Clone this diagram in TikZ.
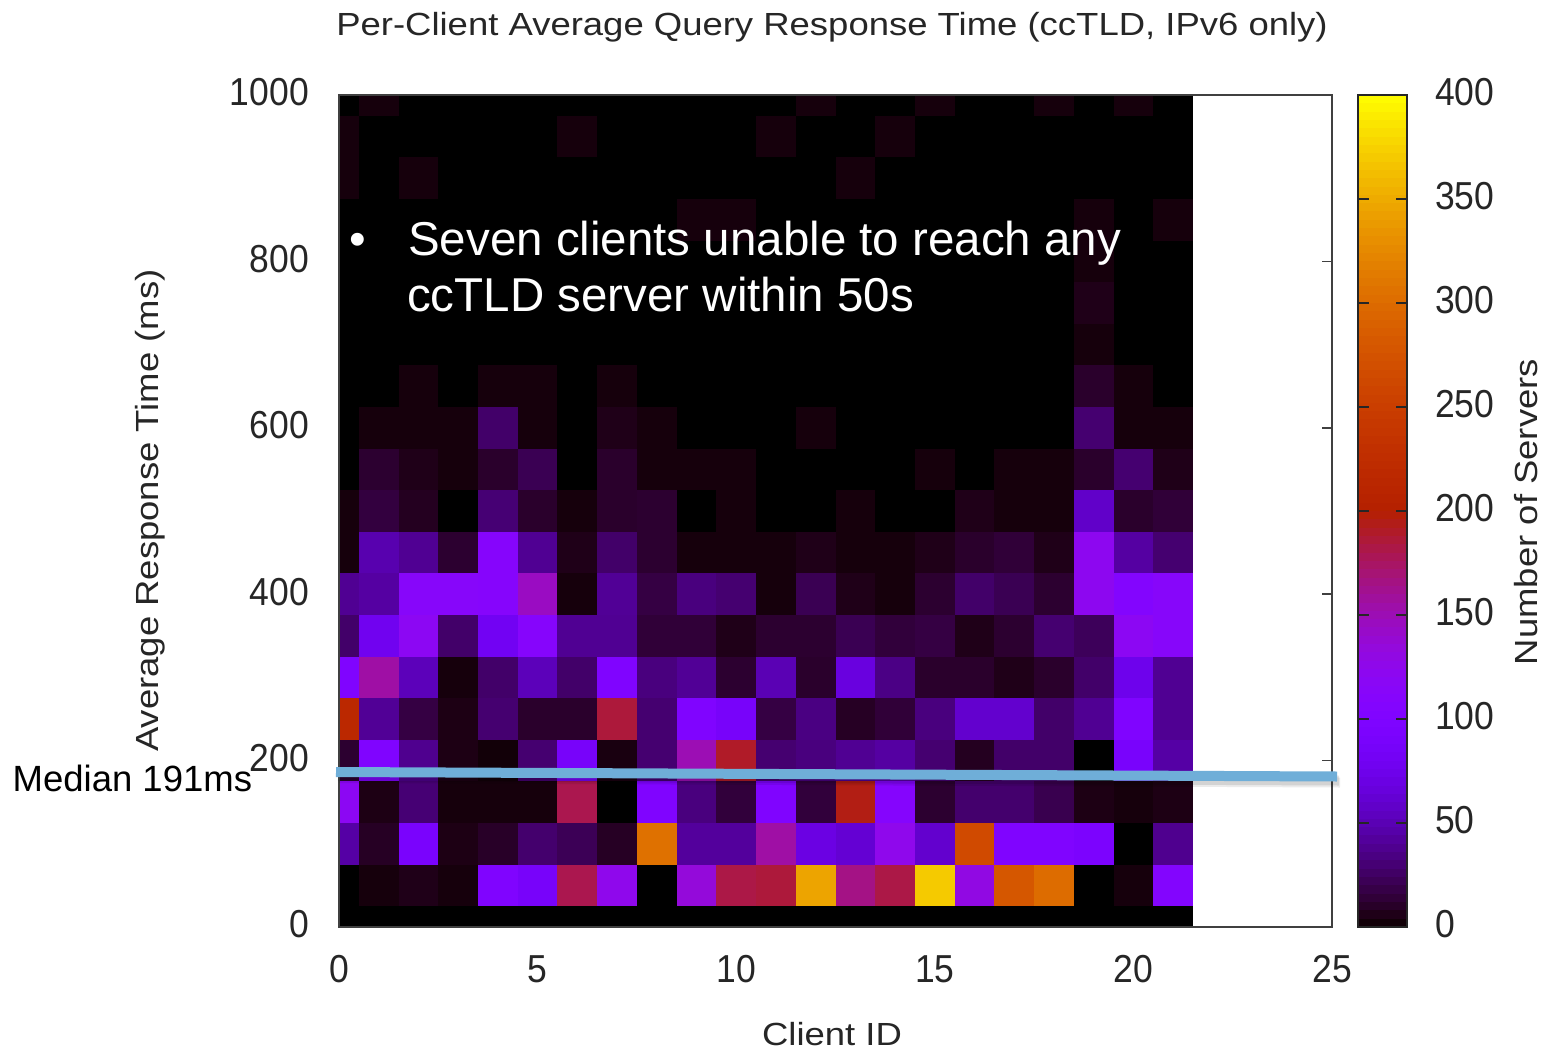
\documentclass[tikz,border=0pt]{standalone}
\usepackage{fontspec}
\setmainfont{Liberation Sans}
\newfontfamily\labelfam[FakeStretch=1.14]{Liberation Sans}
\newfontfamily\tickfam[FakeStretch=0.91]{Liberation Sans}

\definecolor{medianblue}{RGB}{111,174,216}

% gnuplot default palette (rgbformulae 7,5,15) on the range 0..400
\newcommand\setgpcolor[1]{%
  \pgfmathsetmacro\hmR{sqrt((#1)/400)}%
  \pgfmathsetmacro\hmG{((#1)/400)^3}%
  \pgfmathsetmacro\hmB{max(0,sin(0.9*(#1)))}%
  \definecolor{hmc}{rgb}{\hmR,\hmG,\hmB}}

% one row of the heat map: #1 = response time bin (ms), #2 = counts for clients 0..21
\newcommand\hmrow[2]{%
  \foreach \v [count=\ci from 0] in {#2} {%
    \ifnum\v>0\relax
      \setgpcolor{\v}%
      \pgfmathsetmacro\hxa{max(\ci-0.5,0)}%
      \pgfmathsetmacro\hya{max(#1-25,0)}%
      \pgfmathsetmacro\hyb{min(#1+25,1000)}%
      \fill[hmc] (\hxa,\hya) rectangle (\ci+0.5,\hyb);
    \fi
  }%
}

\begin{document}
\begin{tikzpicture}[x=1pt, y=-1pt,
  frameline/.style={draw=black!75, line width=1.5pt},
  ticklabel/.style={font=\tickfam\fontsize{39}{44}\selectfont, text=black!85, inner sep=0pt},
  axislabel/.style={font=\labelfam\fontsize{32}{38}\selectfont, text=black!85, inner sep=0pt},
  note/.style={font=\fontsize{47.5}{56}\selectfont, text=white, inner sep=0pt},
  medianline/.style={line width=10pt, draw=medianblue},
]
\fill[white] (0,0) rectangle (1544,1051);
\useasboundingbox (0,0) rectangle (1544,1051);

% ---- heat map (x: client id, y: response time in ms)
\begin{scope}[shift={(339pt,-927pt)}, x=39.72pt, y=0.832pt]
  \fill[black] (0,0) rectangle (21.5,1000);
  \hmrow{50}{0,3,6,3,100,88,180,125,0,135,182,185,345,165,182,370,130,280,300,0,3,105}
  \hmrow{100}{45,9,92,5,10,28,22,9,305,42,42,155,70,62,125,60,265,100,100,95,0,38}
  \hmrow{150}{120,5,30,3,3,3,180,0,100,33,15,100,15,195,108,12,28,28,20,5,3,5}
  \hmrow{200}{12,100,38,5,2,29,88,4,29,150,190,29,33,39,44,29,8,27,27,0,90,45}
  \hmrow{250}{215,40,17,5,29,11,11,185,29,100,88,17,34,9,14,33,60,60,27,39,100,39}
  \hmrow{300}{100,155,52,3,27,52,27,100,33,40,12,50,11,68,35,11,11,6,11,27,75,39}
  \hmrow{350}{27,78,120,27,80,110,39,39,14,14,6,12,12,21,15,17,6,12,29,23,120,112}
  \hmrow{400}{39,44,112,112,110,145,3,40,17,33,29,3,21,6,3,12,27,21,12,122,105,112}
  \hmrow{450}{3,48,39,12,110,39,6,27,12,3,3,3,6,3,3,6,11,14,6,122,44,29}
  \hmrow{500}{3,16,8,0,30,11,3,11,12,0,3,0,0,3,0,0,6,3,3,58,11,14}
  \hmrow{550}{0,12,6,3,11,21,0,11,3,3,3,0,0,0,0,3,0,3,3,11,29,6}
  \hmrow{600}{0,3,3,3,27,3,0,6,3,0,0,0,3,0,0,0,0,0,0,29,3,3}
  \hmrow{650}{0,0,3,0,3,3,0,3,0,0,0,0,0,0,0,0,0,0,0,11,3,0}
  \hmrow{700}{0,0,0,0,0,0,0,0,0,0,0,0,0,0,0,0,0,0,0,3,0,0}
  \hmrow{750}{0,0,0,0,0,0,0,0,0,0,0,0,0,0,0,0,0,0,0,6,0,0}
  \hmrow{800}{0,0,0,0,0,0,0,0,0,0,0,0,0,0,0,0,0,0,0,3,0,0}
  \hmrow{850}{0,0,0,0,0,0,0,0,0,3,3,0,0,0,0,0,0,0,0,3,0,3}
  \hmrow{900}{3,0,3,0,0,0,0,0,0,0,0,0,0,3,0,0,0,0,0,0,0,0}
  \hmrow{950}{3,0,0,0,0,0,3,0,0,0,0,3,0,0,3,0,0,0,0,0,0,0}
  \hmrow{1000}{0,3,0,0,0,0,0,0,0,0,0,0,3,0,0,3,0,0,3,0,3,0}
  % plot border and the visible mirrored y ticks
  \draw[frameline] (0,0) rectangle (25,1000);
  \foreach \t in {200,400,600,800}
    \draw[frameline] (25,\t) -- ++(-10pt,0pt);
\end{scope}

% ---- colour box
\begin{scope}[shift={(1358pt,-927pt)}, x=49pt, y=2.08pt]
  \foreach \i in {0,...,99} {
    \setgpcolor{4*\i+2}
    \pgfmathsetmacro\cbtop{min(4*\i+4.5,400)}
    \fill[hmc] (0,4*\i) rectangle (1,\cbtop);
  }
  \draw[draw=black!85, line width=1.5pt] (0,0) rectangle (1,400);
  \foreach \t in {50,100,...,350} {
    \draw[draw=black!85, line width=1.5pt] (0,\t) -- ++(11pt,0pt);
    \draw[draw=black!85, line width=1.5pt] (1,\t) -- ++(-11pt,0pt);
  }
\end{scope}

% ---- median line with a soft shadow
\draw[line width=10pt, draw=black, opacity=0.10] (338,776) -- (1339,780.5);
\draw[line width=10pt, draw=black, opacity=0.08] (339,778) -- (1340,782.5);
\draw[medianline] (336,772) -- (1337,776.5);

% ---- tick labels
\foreach \t in {0,200,400,600,800,1000}
  \node[ticklabel, anchor=east] (ytk-\t) at (309,{927-0.832*\t-2.5}) {\t};
\foreach \t in {0,5,10,15,20,25}
  \node[ticklabel, anchor=center] (xtk-\t) at ({339+39.72*\t},969) {\t};
\foreach \t in {0,50,100,150,200,250,300,350,400}
  \node[ticklabel, anchor=west] (cbtk-\t) at (1435,{927-2.08*\t-3}) {\t};

% ---- titles and axis labels
\node[axislabel, anchor=base] (title) at (832,36)
  {Per-Client Average Query Response Time (ccTLD, IPv6 only)};
\node[axislabel, anchor=base, rotate=90] (ylab) at (158,510.5)
  {Average Response Time (ms)};
\node[axislabel, anchor=base] (xlab) at (832,1045) {Client ID};
\node[axislabel, anchor=base, rotate=90] (cblab) at (1537,512) {Number of Servers};

% ---- annotations
\node[note, anchor=base west] (bullet) at (349.5,255) {•};
\node[note, anchor=base west] (note1) at (408,255) {Seven clients unable to reach any};
\node[note, anchor=base west] (note2) at (407,311.7) {ccTLD server within 50s};
\node[anchor=base west, inner sep=0pt, font=\fontsize{36.5}{40}\selectfont, text=black]
  (median) at (12.5,791.7) {Median 191ms};
\end{tikzpicture}
\end{document}
